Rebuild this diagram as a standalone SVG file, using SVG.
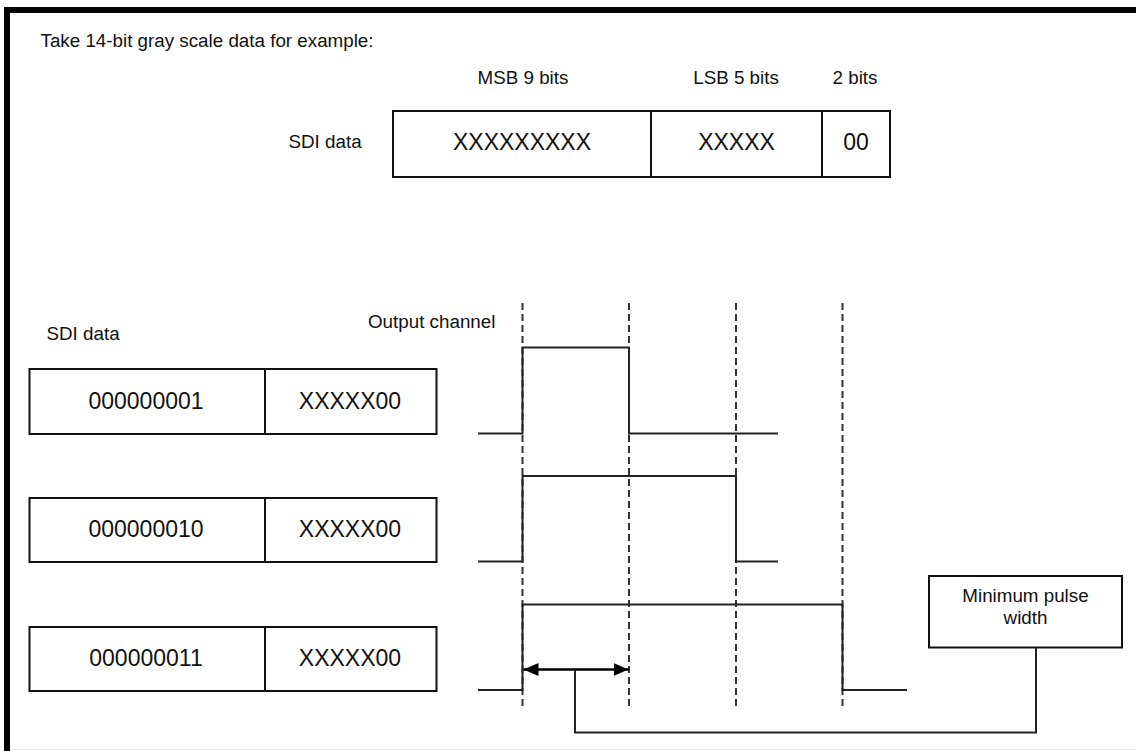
<svg xmlns="http://www.w3.org/2000/svg" width="1136" height="751" viewBox="0 0 1136 751">
<style>
text{font-family:"Liberation Sans",Arial,sans-serif;fill:#111}
.lbl{font-size:18.8px}
.val{font-size:23px;text-anchor:middle}
.box{fill:#fff;stroke:#111;stroke-width:2}
.div{stroke:#111;stroke-width:2}
.dash{stroke:#333;stroke-width:2;stroke-dasharray:7,4;fill:none}
.wave{stroke:#222;stroke-width:2;fill:none}
.conn{stroke:#222;stroke-width:2;fill:none}
</style>
<defs>
<marker id="ah" viewBox="0 0 15 13" refX="15" refY="6.5" markerWidth="15" markerHeight="13" markerUnits="userSpaceOnUse" orient="auto-start-reverse">
<path d="M0,0 L15,6.5 L0,13 Z" fill="#000"/>
</marker>
</defs>
<rect width="1136" height="751" fill="#fff"/>
<line x1="4" y1="749.5" x2="1136" y2="749.5" stroke="#e6e6e6" stroke-width="1"/>
<path d="M7,751 V10 H1136" fill="none" stroke="#000" stroke-width="6"/>
<text class="lbl" x="40.5" y="47">Take 14-bit gray scale data for example:</text>

<g id="top-table">
<text class="lbl" x="523" y="84" text-anchor="middle">MSB 9 bits</text>
<text class="lbl" x="736" y="84" text-anchor="middle">LSB 5 bits</text>
<text class="lbl" x="855" y="84" text-anchor="middle">2 bits</text>
<text class="lbl" x="288.5" y="147.5">SDI data</text>
<rect class="box" x="393" y="111" width="497" height="66"/>
<line class="div" x1="651" y1="111" x2="651" y2="177"/>
<line class="div" x1="822" y1="111" x2="822" y2="177"/>
<text class="val" x="522" y="150">XXXXXXXXX</text>
<text class="val" x="736.5" y="150">XXXXX</text>
<text class="val" x="856" y="150">00</text>
</g>

<g id="labels">
<text class="lbl" x="46.5" y="340">SDI data</text>
<text class="lbl" x="368" y="327.5">Output channel</text>
</g>

<g id="row1">
<rect class="box" x="29.5" y="369" width="407" height="65"/>
<line class="div" x1="265" y1="369" x2="265" y2="434"/>
<text class="val" x="146" y="409">000000001</text>
<text class="val" x="350" y="409">XXXXX00</text>
</g>
<g id="row2">
<rect class="box" x="29.5" y="498" width="407" height="64"/>
<line class="div" x1="265" y1="498" x2="265" y2="562"/>
<text class="val" x="146" y="537">000000010</text>
<text class="val" x="350" y="537">XXXXX00</text>
</g>
<g id="row3">
<rect class="box" x="29.5" y="627" width="407" height="64"/>
<line class="div" x1="265" y1="627" x2="265" y2="691"/>
<text class="val" x="146" y="666">000000011</text>
<text class="val" x="350" y="666">XXXXX00</text>
</g>

<g id="grid">
<line class="dash" x1="522.5" y1="303" x2="522.5" y2="710"/>
<line class="dash" x1="629" y1="303" x2="629" y2="710"/>
<line class="dash" x1="736" y1="303" x2="736" y2="710"/>
<line class="dash" x1="842.5" y1="303" x2="842.5" y2="710"/>
</g>

<g id="waves">
<path class="wave" d="M478,433.5 H522.5 V347.5 H629 V433.5 H778"/>
<path class="wave" d="M478,561.5 H522.5 V476 H736 V561.5 H778"/>
<path class="wave" d="M478,690 H522.5 V604.5 H842.5 V690 H907"/>
</g>

<g id="min-pulse">
<rect class="box" x="929" y="576" width="193" height="71.5"/>
<text class="lbl" x="1025.5" y="602" text-anchor="middle">Minimum pulse</text>
<text class="lbl" x="1025.5" y="624" text-anchor="middle">width</text>
</g>

<g id="connectors">
<line x1="523.5" y1="669.5" x2="628.5" y2="669.5" stroke="#000" stroke-width="2.5" marker-start="url(#ah)" marker-end="url(#ah)"/>
<path class="conn" d="M575,669.5 V732.5 H1036 V647.5"/>
</g>
</svg>
